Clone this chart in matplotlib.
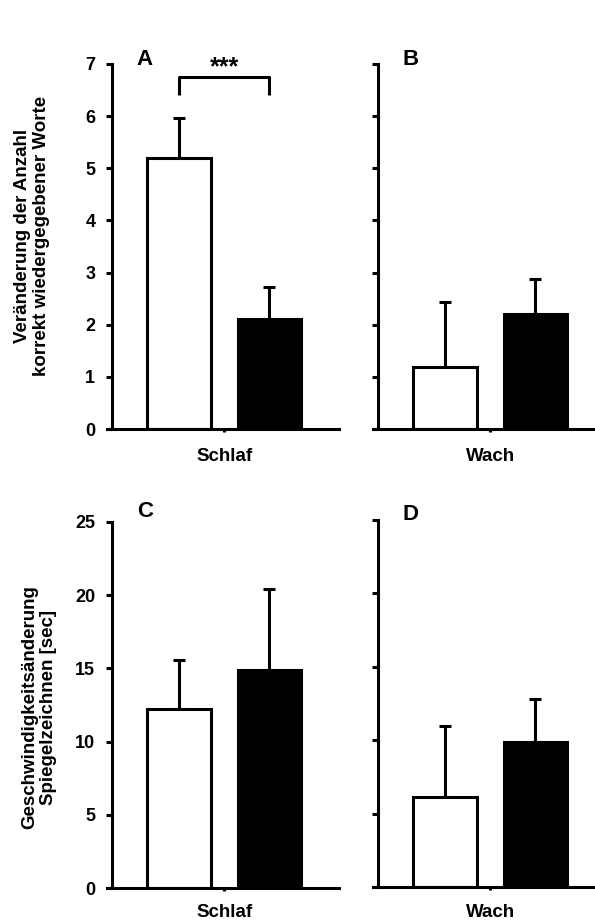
import numpy as np
import matplotlib
matplotlib.use("Agg")
from matplotlib import pyplot as plt

plt.rcParams["font.family"] = ["Liberation Sans", "DejaVu Sans"]
plt.rcParams["font.weight"] = "bold"

# mean and upper SEM per panel: (white bar, black bar)
words_sleep = [5.19, 2.10]
words_sleep_err = [0.77, 0.62]
words_wake = [1.18, 2.20]
words_wake_err = [1.26, 0.67]

mirror_sleep = [12.23, 14.91]
mirror_sleep_err = [3.32, 5.51]
mirror_wake = [6.10, 9.85]
mirror_wake_err = [4.88, 2.99]

panel_letters = ["A", "B", "C", "D"]
group_names = ["Schlaf", "Wach", "Schlaf", "Wach"]
ylabel_words = "Veränderung der Anzahl\nkorrekt wiedergegebener Worte"
ylabel_mirror = "Geschwindigkeitsänderung\nSpiegelzeichnen [sec]"
signif_text = "***"

W, H = 595, 922
fig = plt.figure(figsize=(W / 100, H / 100), dpi=100)

def px_axes(left, top, right, bottom):
    return fig.add_axes([left / W, 1 - bottom / H, (right - left) / W, (bottom - top) / H])

ax_a = px_axes(112, 64, 339, 429)
ax_b = px_axes(378, 64, 605, 429)
ax_c = px_axes(112, 522, 339, 888)
ax_d = px_axes(378, 520, 605, 887)

lw = 2.2
xpos = np.array([0.0, 1.0])

def draw_panel(ax, vals, errs, ymax, step, show_labels, letter, letter_dy, group, xpad):
    ax.bar(xpos, vals, width=0.70, color=["white", "black"], edgecolor="black",
           linewidth=lw, zorder=2)
    ax.errorbar(xpos, vals, yerr=[np.zeros(2), errs], fmt="none", ecolor="black",
                elinewidth=lw, capsize=4.5, capthick=lw, zorder=1)
    ax.set_xlim(-0.74, 1.77)
    ax.set_ylim(0, ymax)
    ax.set_yticks(np.arange(0, ymax + 0.01, step))
    if not show_labels:
        ax.set_yticklabels([])
    ax.set_xticks([0.5])
    ax.set_xticklabels([group])
    for s in ["top", "right"]:
        ax.spines[s].set_visible(False)
    for s in ["left", "bottom"]:
        ax.spines[s].set_linewidth(lw)
    ax.tick_params(axis="y", direction="out", length=4.5, width=lw, labelsize=13, pad=7.5)
    ax.tick_params(axis="x", direction="out", length=2.5, width=lw, labelsize=13.5, pad=xpad)
    ax.spines["bottom"].set_bounds(-0.79, 1.77)
    ax.annotate(letter, xy=(-0.465, ymax), xytext=(0, letter_dy), textcoords="offset points",
                fontsize=16, fontweight="bold", ha="left", va="center")

draw_panel(ax_a, words_sleep, words_sleep_err, 7, 1, True, panel_letters[0], 3.0, group_names[0], 11.5)
draw_panel(ax_b, words_wake, words_wake_err, 7, 1, False, panel_letters[1], 3.0, group_names[1], 11.5)
draw_panel(ax_c, mirror_sleep, mirror_sleep_err, 25, 5, True, panel_letters[2], 7.5, group_names[2], 9.0)
draw_panel(ax_d, mirror_wake, mirror_wake_err, 25, 5, False, panel_letters[3], 4.0, group_names[3], 9.5)

for ax in (ax_a, ax_b, ax_c, ax_d):
    for t in ax.get_xticklabels() + ax.get_yticklabels():
        t.set_fontweight("bold")

# y axis titles, placed in pixel coordinates left of the axes
fig.text(32 / W, 1 - 236 / H, ylabel_words, rotation=90, fontsize=13.5, fontweight="bold",
         ha="center", va="center", multialignment="center", linespacing=1.15)
fig.text(39 / W, 1 - 707 / H, ylabel_mirror, rotation=90, fontsize=13.5, fontweight="bold",
         ha="center", va="center", multialignment="center", linespacing=1.15)

# significance bracket between the two sleep bars
ax_a.plot([0, 0, 1, 1], [6.41, 6.76, 6.76, 6.41], color="black", lw=lw,
          solid_capstyle="butt", clip_on=False)
ax_a.text(0.5, 6.70, signif_text, fontsize=18, fontweight="bold", ha="center", va="bottom")

fig.savefig("out.png", dpi=100, facecolor="white")
